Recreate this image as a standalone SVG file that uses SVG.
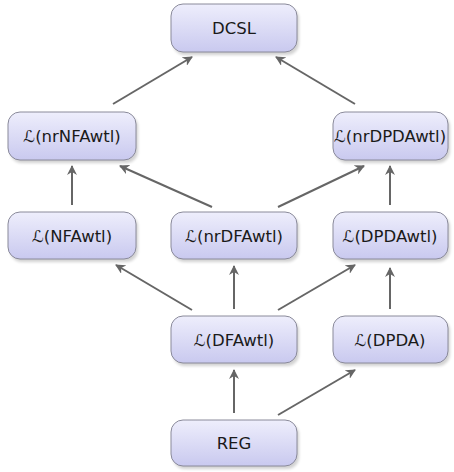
<svg xmlns="http://www.w3.org/2000/svg" width="454" height="472" viewBox="0 0 454 472">
<style>
.box{fill:url(#g);stroke:#8a8a9a;stroke-width:1}
.sh{fill:#000;opacity:0.18;filter:url(#blur)}
.lbl{font-family:"DejaVu Sans","Liberation Sans",sans-serif;font-size:16.5px;fill:#1a1a1a;text-anchor:middle;dominant-baseline:central}
.e{stroke:#666;stroke-width:2;fill:none;marker-end:url(#ah)}
</style>
<defs>
<linearGradient id="g" x1="0" y1="0" x2="0" y2="1">
<stop offset="0" stop-color="#eeeefc"/>
<stop offset="1" stop-color="#c9c9ef"/>
</linearGradient>
<filter id="blur" x="-10%" y="-10%" width="130%" height="140%"><feGaussianBlur stdDeviation="1.5"/></filter>
<marker id="ah" viewBox="0 0 10 10" refX="9" refY="5" markerWidth="5" markerHeight="5" orient="auto" markerUnits="strokeWidth">
<path d="M0,0 L10,5 L0,10 L3,5 Z" fill="#666"/>
</marker>
</defs>
<g id="edges">
<line class="e" x1="113" y1="104" x2="192" y2="57"/>
<line class="e" x1="355" y1="104" x2="276" y2="57"/>
<line class="e" x1="72" y1="205" x2="72" y2="166"/>
<line class="e" x1="212" y1="207" x2="120" y2="166"/>
<line class="e" x1="278" y1="207" x2="364" y2="166"/>
<line class="e" x1="390" y1="205" x2="390" y2="166"/>
<line class="e" x1="192" y1="310" x2="116" y2="265"/>
<line class="e" x1="234" y1="309" x2="234" y2="266"/>
<line class="e" x1="278" y1="310" x2="355" y2="265"/>
<line class="e" x1="390" y1="309" x2="390" y2="268"/>
<line class="e" x1="234" y1="413" x2="234" y2="370"/>
<line class="e" x1="278" y1="415" x2="355" y2="370"/>
</g>
<g id="DCSL"><rect class="sh" x="173" y="7" width="126" height="48" rx="12"/><rect class="box" x="171" y="4" width="126" height="48" rx="12"/><text class="lbl" x="234" y="28">DCSL</text></g>
<g id="nrNFAwtl"><rect class="sh" x="10" y="115" width="128" height="48" rx="12"/><rect class="box" x="8" y="112" width="128" height="48" rx="12"/><text class="lbl" x="72" y="136">ℒ(nrNFAwtl)</text></g>
<g id="nrDPDAwtl"><rect class="sh" x="335" y="115" width="115" height="48" rx="12"/><rect class="box" x="333" y="112" width="115" height="48" rx="12"/><text class="lbl" x="390" y="136">ℒ(nrDPDAwtl)</text></g>
<g id="NFAwtl"><rect class="sh" x="10" y="215" width="128" height="47" rx="12"/><rect class="box" x="8" y="212" width="128" height="47" rx="12"/><text class="lbl" x="72" y="236">ℒ(NFAwtl)</text></g>
<g id="nrDFAwtl"><rect class="sh" x="173" y="215" width="126" height="47" rx="12"/><rect class="box" x="171" y="212" width="126" height="47" rx="12"/><text class="lbl" x="234" y="236">ℒ(nrDFAwtl)</text></g>
<g id="DPDAwtl"><rect class="sh" x="335" y="215" width="115" height="47" rx="12"/><rect class="box" x="333" y="212" width="115" height="47" rx="12"/><text class="lbl" x="390" y="236">ℒ(DPDAwtl)</text></g>
<g id="DFAwtl"><rect class="sh" x="173" y="319" width="126" height="47" rx="12"/><rect class="box" x="171" y="316" width="126" height="47" rx="12"/><text class="lbl" x="234" y="340">ℒ(DFAwtl)</text></g>
<g id="DPDA"><rect class="sh" x="335" y="319" width="115" height="47" rx="12"/><rect class="box" x="333" y="316" width="115" height="47" rx="12"/><text class="lbl" x="390" y="340">ℒ(DPDA)</text></g>
<g id="REG"><rect class="sh" x="173" y="423" width="126" height="46" rx="12"/><rect class="box" x="171" y="420" width="126" height="46" rx="12"/><text class="lbl" x="234" y="443">REG</text></g>
</svg>
